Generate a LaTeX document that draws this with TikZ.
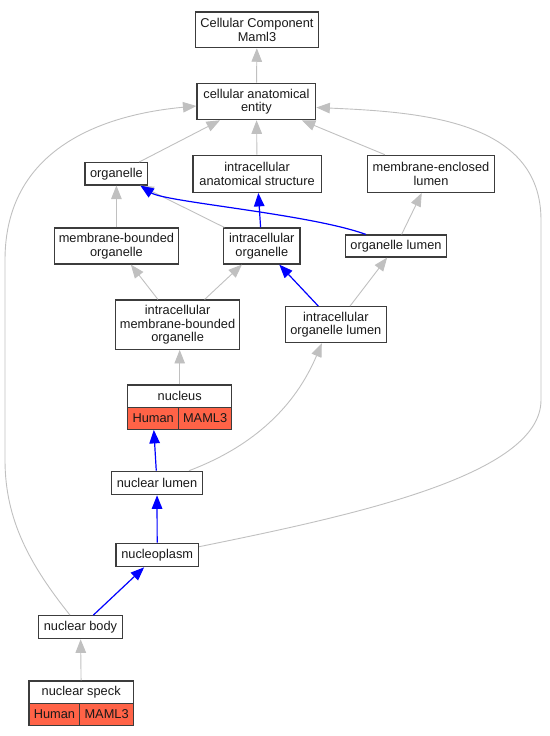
\documentclass[tikz,border=0pt]{standalone}
\usepackage{fontspec}
\setmainfont{Liberation Sans}
\usetikzlibrary{arrows.meta,calc}
\definecolor{edgegray}{RGB}{192,192,192}
\definecolor{edgeblue}{RGB}{0,0,255}
\definecolor{tomato}{RGB}{255,99,71}
\definecolor{boxline}{RGB}{60,60,60}
\begin{document}
\begin{tikzpicture}[x=1pt,y=-1pt,
  box/.style={draw=boxline, line width=1.2pt, fill=white, inner sep=0pt, align=center,
    font=\fontsize{12.8}{13.4}\selectfont, text=black!90},
  cell/.style={box, fill=tomato},
  ge/.style={draw=edgegray, line width=0.9pt, -{Triangle[length=13.5pt,width=10.5pt]}},
  be/.style={draw=edgeblue, line width=1.2pt, -{Triangle[length=13.5pt,width=10.5pt]}}]
\useasboundingbox (0,0) rectangle (549,736);

% nodes
\node[box, minimum width=123pt, minimum height=35.7pt] (cc) at (257,29.8) {Cellular Component\\Maml3};
\node[box, minimum width=118.7pt, minimum height=36.4pt] (cae) at (256.4,101.5) {cellular anatomical\\entity};
\node[box, minimum width=62.7pt, minimum height=22.3pt] (org) at (116.4,173.8) {organelle};
\node[box, minimum width=128.4pt, minimum height=37pt] (ias) at (257.1,173.8) {intracellular\\anatomical structure};
\node[box, minimum width=127pt, minimum height=37pt] (mel) at (431,173.8) {membrane-enclosed\\lumen};
\node[box, minimum width=124.2pt, minimum height=36pt] (mbo) at (116.4,246) {membrane-bounded\\organelle};
\node[box, minimum width=76.3pt, minimum height=36pt] (io) at (261.8,246) {intracellular\\organelle};
\node[box, minimum width=101pt, minimum height=22pt] (ol) at (396,246) {organelle lumen};
\node[box, minimum width=124.3pt, minimum height=49.3pt] (imbo) at (177.6,324.7) {intracellular\\membrane-bounded\\organelle};
\node[box, minimum width=101pt, minimum height=36pt] (iol) at (335.8,324.7) {intracellular\\organelle lumen};
\node[box, minimum width=103.9pt, minimum height=22.3pt] (nuc) at (179.7,396.2) {nucleus};
\node[cell, minimum width=50.7pt, minimum height=22pt] (nucH) at (153.15,418.3) {Human};
\node[cell, minimum width=53.2pt, minimum height=22pt] (nucM) at (205.1,418.3) {MAML3};
\node[box, minimum width=90.6pt, minimum height=23.4pt] (nl) at (157,483) {nuclear lumen};
\node[box, minimum width=82.6pt, minimum height=23.4pt] (np) at (157.2,555) {nucleoplasm};
\node[box, minimum width=84pt, minimum height=23pt] (nb) at (80.5,627.2) {nuclear body};
\node[box, minimum width=104.4pt, minimum height=22.3pt] (ns) at (81.2,692.2) {nuclear speck};
\node[cell, minimum width=50.8pt, minimum height=22pt] (nsH) at (54.4,714.3) {Human};
\node[cell, minimum width=53.6pt, minimum height=22pt] (nsM) at (106.6,714.3) {MAML3};

% edges
\draw[ge] (cae) -- (cc);
\draw[ge] (org) -- (cae);
\draw[ge] (ias) -- (cae);
\draw[ge] (mel) -- (cae);
\draw[ge] ($(nb.north)+(-10.5,0)$) .. controls (30,565) and (5,520) .. (5,460) -- (5,260)
   .. controls (5,150) and (100,115) .. ($(cae.west)+(0,4.5)$);
\draw[ge] ($(np.east)+(0,-8.3)$) .. controls (355,515) and (541,475) .. (541,400) -- (541,220)
   .. controls (541,120) and (420,112) .. ($(cae.east)+(0,6)$);
\draw[ge] (mbo) -- (org);
\draw[ge] (io) -- (org);
\draw[be] ($(ol.north)+(-30.2,0)$) .. controls (310,214) and (165,202) .. ($(org.south east)+(-8,0)$);
\draw[be] (io) -- (ias);
\draw[ge] (ol) -- (mel);
\draw[ge] (imbo) -- (mbo);
\draw[ge] (imbo) -- (io);
\draw[be] (iol) -- (io);
\draw[ge] (iol) -- (ol);
\draw[ge] (nuc.north) -- (nuc.north |- imbo.south);
\draw[be] (nl) -- (nucH);
\draw[ge] ($(nl.north)+(32,0)$) .. controls (270,440) and (302,390) .. ($(iol.south)+(-14,0)$);
\draw[be] (np) -- (nl);
\draw[be] (nb) -- (np);
\draw[ge] (ns) -- (nb);
\end{tikzpicture}
\end{document}
